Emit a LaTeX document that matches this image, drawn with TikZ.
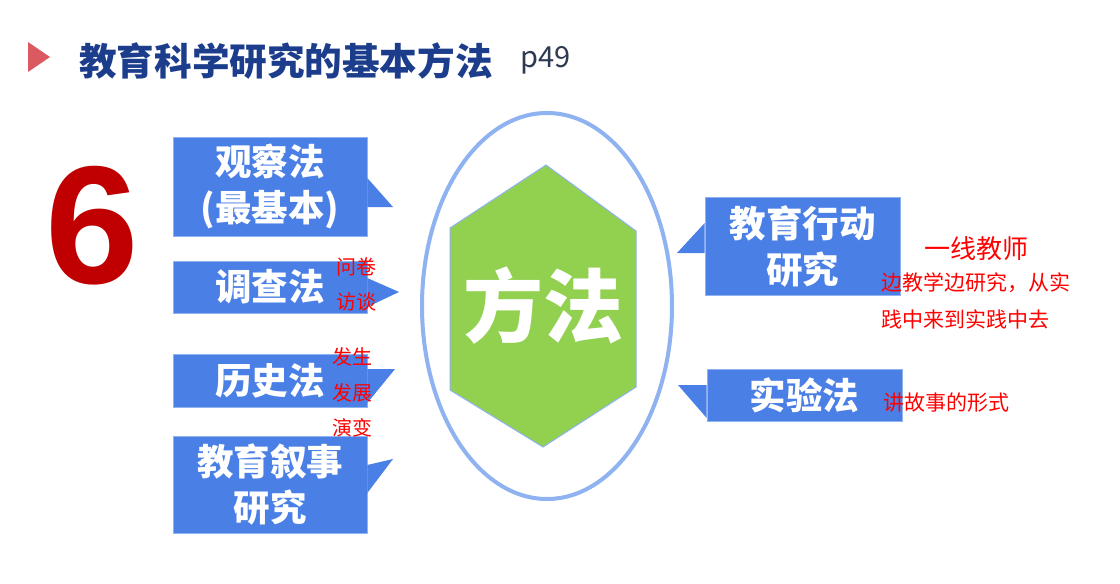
\documentclass[tikz,border=0pt]{standalone}
\usepackage{fontspec}
\setmainfont{Noto Sans CJK SC}
\newfontfamily\numfont{Liberation Sans}
\usetikzlibrary{shapes.geometric}
\definecolor{boxblue}{HTML}{4A7FE6}
\definecolor{edgeblue}{HTML}{8FB2F0}
\definecolor{hexgreen}{HTML}{92D050}
\definecolor{titleblue}{HTML}{1C3D8C}
\definecolor{pagegray}{HTML}{2E3A52}
\definecolor{marker}{HTML}{DB5A62}
\definecolor{bigred}{HTML}{C00000}
\tikzset{
	method/.style={fill=boxblue, draw=edgeblue, line width=0.6pt, text=white, align=center, minimum width=194pt, inner sep=0pt, font=\bfseries\fontsize{36.5}{46}\selectfont},
	callout/.style={fill=boxblue},
	note/.style={text=red, inner sep=0pt, anchor=west, font=\fontsize{21}{21}\selectfont},
	ring/.style={draw=edgeblue, line width=4pt, ellipse, minimum width=250pt, minimum height=386pt}
}

\begin{document}
\begin{tikzpicture}[x=1pt, y=-1pt]
	\useasboundingbox[fill=white] (0, 0) rectangle (1120, 584);

	\fill[marker] (28, 42) -- (50, 57) -- (28, 72) -- cycle;
	\node[anchor=west, inner sep=0pt, text=titleblue, font=\bfseries\fontsize{37.6}{37.6}\selectfont] (title) at (79, 61) {教育科学研究的基本方法};
	\node[anchor=base west, inner sep=0pt, text=pagegray, font=\fontsize{29}{29}\selectfont] (page) at (520, 67) {p49};
	\node[inner sep=0pt, text=bigred, font=\numfont\bfseries\fontsize{168}{168}\selectfont] (six) at (92, 226) {6};

	\node[ring] (ring) at (547, 306) {};
	\filldraw[fill=hexgreen, draw=edgeblue, line width=1pt] (546, 165) -- (636, 231) -- (636, 387) -- (543, 447) -- (450, 390) -- (450, 228) -- cycle;
	\node[text=white, font=\bfseries\fontsize{80}{80}\selectfont] (core) at (543, 306) {方法};

	\node[method, minimum height=99pt] (observe)  at (270, 186.5) {观察法\\(最基本)};
	\node[method, minimum height=52pt] (survey)   at (270, 287)   {调查法};
	\node[method, minimum height=53pt] (history)  at (270, 380.5) {历史法};
	\node[method, minimum height=97pt] (narrate)  at (270, 484.5) {教育叙事\\研究};
	\node[method, minimum height=98pt, minimum width=195pt] (action) at (802.5, 246) {教育行动\\研究};
	\node[method, minimum height=52pt, minimum width=195pt] (trial)  at (804.5, 395) {实验法};

	\fill[callout] (observe.east |- 0, 178) -- (393, 207) -- (observe.east |- 0, 207) -- cycle;
	\fill[callout] (survey.east |- 0, 278)  -- (399, 292) -- (survey.east |- 0, 307)  -- cycle;
	\fill[callout] (history.east |- 0, 369) -- (395, 369) -- (history.east |- 0, 403) -- cycle;
	\fill[callout] (narrate.east |- 0, 465) -- (393, 459) -- (narrate.east |- 0, 493) -- cycle;
	\fill[callout] (action.west |- 0, 223)  -- (677, 253) -- (action.west |- 0, 253)  -- cycle;
	\fill[callout] (trial.west |- 0, 385)   -- (678, 385) -- (trial.west |- 0, 418)   -- cycle;

	\node[note, font=\fontsize{20}{20}\selectfont] (ask)    at (336, 267) {问卷};
	\node[note, font=\fontsize{20}{20}\selectfont] (talk)   at (336, 302) {访谈};
	\node[note, font=\fontsize{20}{20}\selectfont] (origin) at (332, 357) {发生};
	\node[note, font=\fontsize{20}{20}\selectfont] (grow)   at (332, 393) {发展};
	\node[note, font=\fontsize{20}{20}\selectfont] (change) at (332, 428) {演变};
	\node[note, font=\fontsize{26}{26}\selectfont] (teacher) at (924, 249) {一线教师};
	\node[note] (loop1) at (881, 283) {边教学边研究，从实};
	\node[note] (loop2) at (881, 319) {践中来到实践中去};
	\node[note] (story) at (883, 403) {讲故事的形式};
\end{tikzpicture}
\end{document}
